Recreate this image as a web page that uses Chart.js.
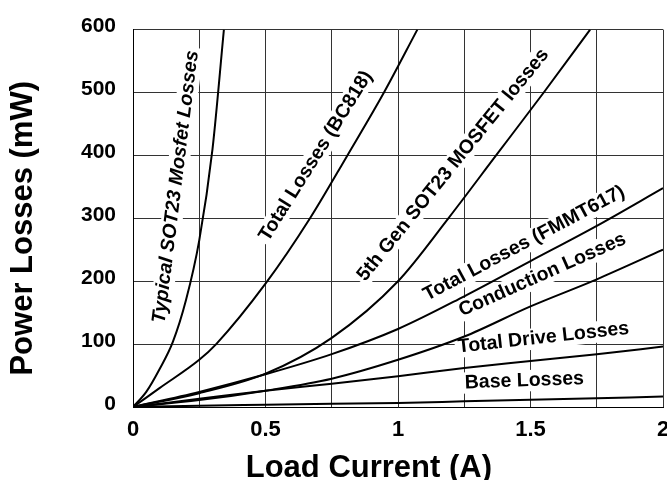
<!DOCTYPE html>
<html>
<head>
<meta charset="utf-8">
<script src="https://cdn.jsdelivr.net/npm/chart.js@4/dist/chart.umd.min.js"></script>
<style>
    html, body { margin: 0; padding: 0; background: #fff; overflow: hidden; }
    #wrap { width: 680px; height: 480px; }
</style>
</head>
<body>
<div id="wrap"><canvas id="lossChart" width="680" height="480"></canvas></div>
<script>
// Load current (A) / power losses (mW)
const typicalX = [0, 0.05, 0.1, 0.15, 0.2, 0.25, 0.3, 0.343];
const typicalY = [0, 24, 60, 103, 170, 265, 410, 600];

const bc818X = [0, 0.1, 0.25, 0.314, 0.5, 0.668, 0.809, 0.947, 1.073];
const bc818Y = [0, 30, 75, 100, 196, 300, 400, 500, 600];

const fifthGenX = [0, 0.25, 0.5, 0.75, 1.0, 1.19, 1.37, 1.55, 1.725];
const fifthGenY = [0, 22, 53, 110, 200, 300, 400, 500, 600];

// FMMT617 curves share the same current points
const fmmtX = [0, 0.25, 0.5, 0.75, 1.0, 1.25, 1.5, 1.75, 2.0];
const fmmtTotalY = [0, 24, 52, 84, 124, 176, 232, 288, 348];
const conductionY = [0, 11, 26, 45, 75, 112, 160, 203, 250];
const driveY = [0, 13, 26, 37, 49, 62, 73, 84, 96];
const baseY = [0, 2, 3.5, 5, 6.5, 9, 11.5, 14, 16.5];

const xTicks = [0, 0.5, 1, 1.5, 2];

// curve labels: text, anchor (in data units), angle in degrees
const curveLabels = [
    { text: 'Typical SOT23 Mosfet Losses', x: 0.162, y: 350, angle: -83, italic: true },
    { text: 'Total Losses (BC818)', x: 0.69, y: 399, angle: -58 },
    { text: '5th Gen SOT23 MOSFET losses', x: 1.208, y: 385, angle: -51 },
    { text: 'Total Losses (FMMT617)', x: 1.476, y: 260, angle: -28 },
    { text: 'Conduction Losses', x: 1.545, y: 210, angle: -24 },
    { text: 'Total Drive Losses', x: 1.549, y: 110, angle: -6.3 },
    { text: 'Base Losses', x: 1.477, y: 41.6, angle: -2.1 }
];

const FONT = '"Liberation Sans", Arial, Helvetica, sans-serif';

function toPoints(xs, ys) {
    return xs.map((x, i) => ({ x: x, y: ys[i] }));
}

function curve(label, xs, ys) {
    return {
        label: label,
        data: toPoints(xs, ys),
        borderColor: '#000',
        borderWidth: 2,
        pointRadius: 0,
        fill: false,
        cubicInterpolationMode: 'monotone'
    };
}

// white boxes + text for the curve names, drawn under the lines
const curveLabelPlugin = {
    id: 'curveLabels',
    beforeDatasetsDraw(chart) {
        const ctx = chart.ctx;
        const xs = chart.scales.x;
        const ys = chart.scales.y;
        curveLabels.forEach(item => {
            const size = 19.5;
            ctx.save();
            ctx.translate(xs.getPixelForValue(item.x), ys.getPixelForValue(item.y));
            ctx.rotate(item.angle * Math.PI / 180);
            ctx.font = (item.italic ? 'italic ' : '') + 'bold ' + size + 'px ' + FONT;
            const w = ctx.measureText(item.text).width;
            const h = size * 1.1;
            ctx.fillStyle = '#fff';
            ctx.fillRect(-w / 2 - 3, -h / 2, w + 6, h);
            ctx.fillStyle = '#000';
            ctx.textAlign = 'center';
            ctx.textBaseline = 'middle';
            ctx.fillText(item.text, 0, 0);
            ctx.restore();
        });
    },
    afterDraw(chart) {
        const ctx = chart.ctx;
        const area = chart.chartArea;
        ctx.save();
        ctx.fillStyle = '#000';
        ctx.font = 'bold 31px ' + FONT;
        ctx.textAlign = 'center';
        ctx.textBaseline = 'alphabetic';
        // x axis title
        ctx.fillText('Load Current (A)', area.left + (area.right - area.left) * 0.445, 477);
        // y axis title
        ctx.translate(32, (area.top + area.bottom) / 2 + 10);
        ctx.rotate(-Math.PI / 2);
        ctx.fillText('Power Losses (mW)', 0, 0);
        ctx.restore();
    }
};

new Chart(document.getElementById('lossChart'), {
    type: 'line',
    data: {
        datasets: [
            curve('Typical SOT23 Mosfet Losses', typicalX, typicalY),
            curve('Total Losses (BC818)', bc818X, bc818Y),
            curve('5th Gen SOT23 MOSFET losses', fifthGenX, fifthGenY),
            curve('Total Losses (FMMT617)', fmmtX, fmmtTotalY),
            curve('Conduction Losses', fmmtX, conductionY),
            curve('Total Drive Losses', fmmtX, driveY),
            curve('Base Losses', fmmtX, baseY)
        ]
    },
    options: {
        responsive: false,
        animation: false,
        layout: {
            padding: { top: 22, right: 17, left: 0, bottom: 0 }
        },
        plugins: {
            legend: { display: false },
            tooltip: { enabled: false }
        },
        scales: {
            x: {
                type: 'linear',
                min: 0,
                max: 2,
                afterFit(scale) { scale.height = 73; },
                border: { color: '#000', width: 1 },
                grid: { color: '#333', lineWidth: 1, drawTicks: false },
                ticks: {
                    stepSize: 0.25,
                    autoSkip: false,
                    maxRotation: 0,
                    padding: 10,
                    color: '#000',
                    font: { family: FONT, size: 22, weight: 'bold' },
                    callback: v => xTicks.includes(v) ? String(v) : ''
                }
            },
            y: {
                min: 0,
                max: 600,
                afterFit(scale) { scale.width = 133; },
                border: { color: '#000', width: 1 },
                grid: { color: '#333', lineWidth: 1, drawTicks: false },
                ticks: {
                    stepSize: 100,
                    padding: 17,
                    labelOffset: -3,
                    color: '#000',
                    font: { family: FONT, size: 21, weight: 'bold' }
                }
            }
        }
    },
    plugins: [curveLabelPlugin]
});
</script>
</body>
</html>
